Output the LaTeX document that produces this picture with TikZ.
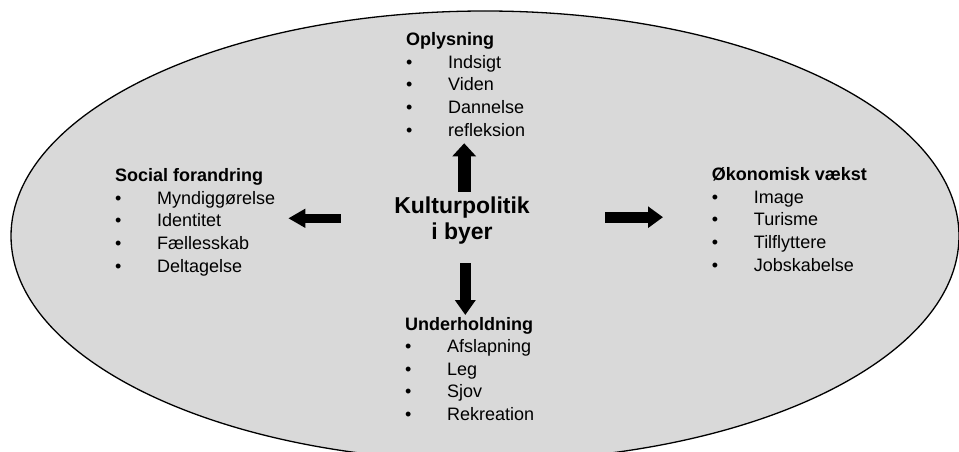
\documentclass[tikz,border=0pt]{standalone}
\usepackage{fontspec}
\setmainfont{Liberation Sans}
\usepackage{xcolor}
\usepackage{tikz}
\usetikzlibrary{arrows.meta}
\definecolor{oval}{HTML}{D9D9D9}
\definecolor{ink}{HTML}{000000}
\newcommand{\pkt}[1]{\makebox[42pt][l]{\textbullet}#1}

\begin{document}
\begin{tikzpicture}[x=1pt,y=-1pt,every node/.style={font=\fontsize{18}{22.6}\selectfont,text=ink,inner sep=0pt},
  overskrift/.style={font=\bfseries\fontsize{18}{22.6}\selectfont,anchor=base west},
  punkt/.style={anchor=base west},
  blok/.style n args={3}{ink,line width=#1,-{Triangle[width=#2,length=#3]}}]
  \useasboundingbox (0,0) rectangle (959,452);
  \clip (0,0) rectangle (959,452);
  \filldraw[fill=oval,draw=ink,line width=1.3pt] (485,236) ellipse [x radius=474,y radius=225];
  % midten
  \node[align=center,font=\bfseries\fontsize{23}{26}\selectfont] (kult) at (462,221) {Kulturpolitik\\i byer};
  % Oplysning
  \node[overskrift] (oply) at (406,45.7) {Oplysning};
  \foreach \t [count=\i] in {Indsigt,Viden,Dannelse,refleksion}
    \node[punkt] (oply\i) at (406,{45.7+22.6*\i}) {\pkt{\t}};
  % Social forandring
  \node[overskrift] (soc) at (115,181.7) {Social forandring};
  \foreach \t [count=\i] in {Myndiggørelse,Identitet,Fællesskab,Deltagelse}
    \node[punkt] (soc\i) at (115,{181.7+22.6*\i}) {\pkt{\t}};
  % Økonomisk vækst
  \node[overskrift] (oko) at (711.7,180.7) {Økonomisk vækst};
  \foreach \t [count=\i] in {Image,Turisme,Tilflyttere,Jobskabelse}
    \node[punkt] (oko\i) at (711.7,{180.7+22.6*\i}) {\pkt{\t}};
  % Underholdning
  \node[overskrift] (und) at (405,330) {Underholdning};
  \foreach \t [count=\i] in {Afslapning,Leg,Sjov,Rekreation}
    \node[punkt] (und\i) at (405,{330+22.6*\i}) {\pkt{\t}};
  % pile
  \coordinate (opA) at (464.2,191.7); \coordinate (opB) at (464.2,143.3);
  \coordinate (nedA) at (465.3,263.3); \coordinate (nedB) at (465.3,315);
  \coordinate (venA) at (340.7,218.3); \coordinate (venB) at (288.3,218.3);
  \coordinate (hojA) at (605,217.2); \coordinate (hojB) at (663,217.2);
  \draw[blok={13pt}{23pt}{13pt}] (opA) -- (opB);
  \draw[blok={10.7pt}{20pt}{15pt}] (nedA) -- (nedB);
  \draw[blok={8.7pt}{18pt}{17pt}] (venA) -- (venB);
  \draw[blok={11pt}{20.7pt}{15pt}] (hojA) -- (hojB);
\end{tikzpicture}
\end{document}
